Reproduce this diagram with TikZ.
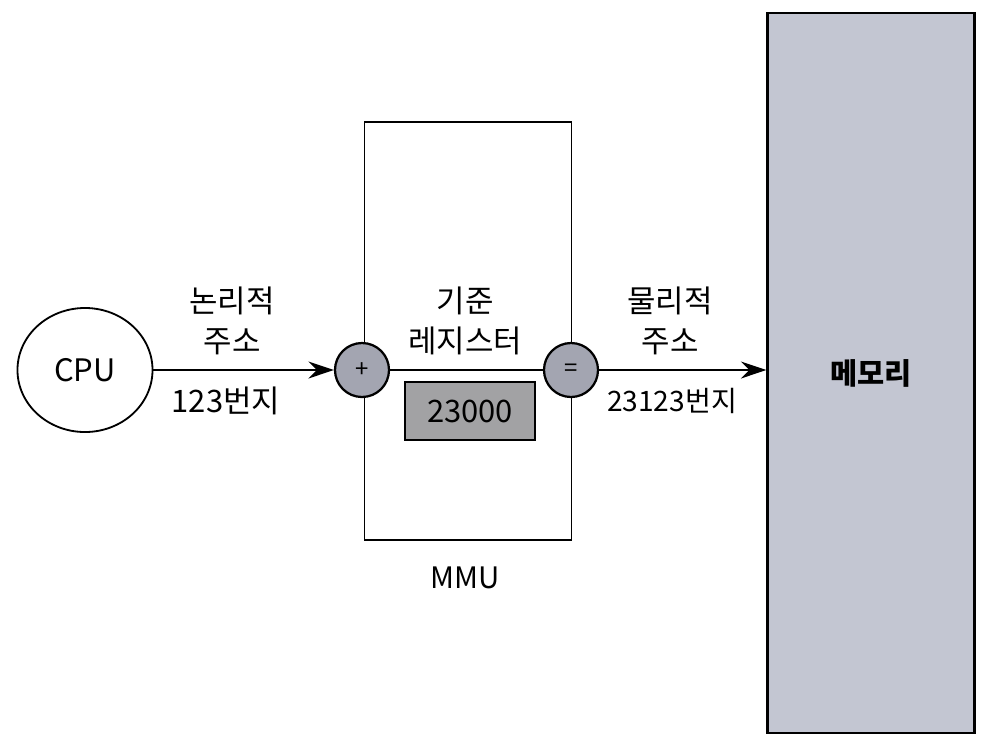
\documentclass[tikz,border=0pt]{standalone}
\usepackage{fontspec}
\setmainfont{Noto Sans CJK KR}
\usepackage{tikz}
\usetikzlibrary{calc,positioning,arrows.meta,shapes.geometric}

\definecolor{opgray}{HTML}{A3A5B1}
\definecolor{reggray}{HTML}{A2A2A4}
\definecolor{memgray}{HTML}{C3C6D2}

\begin{document}
\begin{tikzpicture}[
    x=0.025cm, y=-0.025cm,
    unit/.style={ellipse, draw, line width=1.3pt, minimum width=3.375cm, minimum height=3.1cm, font=\fontsize{22}{26}\selectfont},
    op/.style={circle, draw, line width=1.6pt, fill=opgray, minimum size=1.35cm, inner sep=0pt, font=\fontsize{17}{18}\selectfont},
    regbox/.style={rectangle, draw, line width=1.6pt, fill=reggray, minimum width=3.25cm, minimum height=1.45cm, font=\fontsize{22}{26}\selectfont},
    memory/.style={rectangle, draw, line width=1.6pt, fill=memgray, minimum width=5.175cm, minimum height=18cm, font=\bfseries\fontsize{21}{24}\selectfont},
    label/.style={align=center, font=\fontsize{22}{28.5}\selectfont},
    arrow/.style={-{Stealth[length=18pt,width=12pt]}, line width=2pt}
]
    \useasboundingbox (0,0) rectangle (997,746);

    \node[draw, line width=1.3pt, minimum width=5.175cm, minimum height=10.45cm] (mmu) at (468, 331) {};
    \node[font=\fontsize{21}{24}\selectfont] (mmulabel) at (465, 578) {MMU};

    \node[unit] (cpu) at (85, 370) {CPU};
    \node[op] (plus) at (362, 370) {+};
    \node[op] (equal) at (571, 370) {=};
    \node[regbox] (reg) at (470, 411) {23000};
    \node[memory] (mem) at (871, 373) {메모리};

    \node[label] (logical) at (232, 321) {논리적\\주소};
    \node[label] (logaddr) at (226, 401) {123번지};
    \node[label] (base) at (465, 321) {기준\\레지스터};
    \node[label] (physical) at (670, 321) {물리적\\주소};
    \node[label, font=\fontsize{20}{24}\selectfont] (physaddr) at (672, 401) {23123번지};

    \draw[arrow] (cpu) -- (plus);
    \draw[line width=2pt] (plus) -- (equal);
    \draw[arrow] (equal) -- (mem.west |- equal);
\end{tikzpicture}
\end{document}
